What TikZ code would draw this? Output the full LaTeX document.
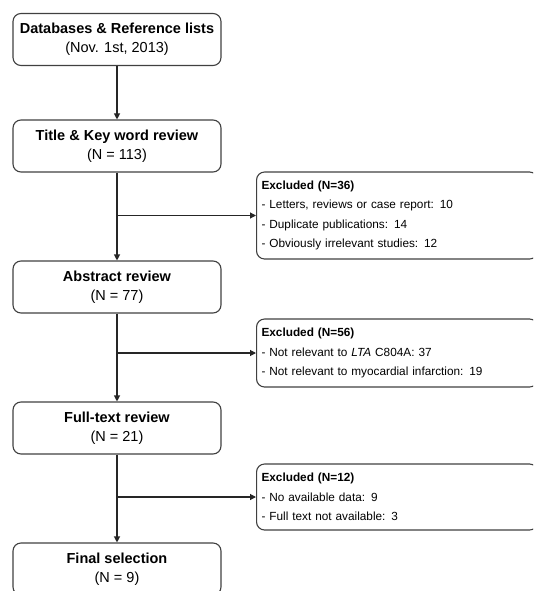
\documentclass[tikz,border=0pt]{standalone}
\usepackage{fontspec}
\setmainfont{Liberation Sans}
\usetikzlibrary{arrows.meta}

\tikzset{
  stage/.style={draw=black!75,line width=1.1pt,rounded corners=8pt,
    minimum width=208pt,minimum height=52pt,align=center,
    font=\fontsize{14.5}{19}\selectfont},
  excl/.style={draw=black!75,line width=1.1pt,rounded corners=8pt,anchor=west,
    text width=271pt,inner xsep=5pt,align=left,
    font=\fontsize{11.8}{19.5}\selectfont},
  flow/.style={line width=1.1pt,black!85,-{Triangle[length=6pt,width=6pt]}}
}

\begin{document}
\begin{tikzpicture}[x=1pt,y=-1pt]
\useasboundingbox (0,0) rectangle (533,591);
\clip (0,0) rectangle (533,591);

% Stages
\node[stage] (db) at (117,39.5) {\textbf{Databases \& Reference lists}\\(Nov. 1st, 2013)};
\node[stage] (title) at (117,146) {\textbf{Title \& Key word review}\\(N = 113)};
\node[stage] (abstract) at (117,287) {\textbf{Abstract review}\\(N = 77)};
\node[stage] (fulltext) at (117,428) {\textbf{Full-text review}\\(N = 21)};
\node[stage] (final) at (117,569) {\textbf{Final selection}\\(N = 9)};

% Exclusions
\node[excl,minimum height=87pt] (ex1) at (256,215.5) {\textbf{Excluded (N=36)}\\
- Letters, reviews or case report: 10\\
- Duplicate publications: 14\\
- Obviously irrelevant studies: 12};
\node[excl,minimum height=68pt] (ex2) at (256,353) {\textbf{Excluded (N=56)}\\
- Not relevant to \textit{LTA} C804A: 37\\
- Not relevant to myocardial infarction: 19};
\node[excl,minimum height=66pt] (ex3) at (256,497) {\textbf{Excluded (N=12)}\\
- No available data: 9\\
- Full text not available: 3};

% Arrows
\draw[flow] (db) -- (title);
\draw[flow] (title) -- (abstract);
\draw[flow] (abstract) -- (fulltext);
\draw[flow] (fulltext) -- (final);

% Branches
\coordinate (b1) at (title.south |- ex1.west);
\coordinate (b2) at (abstract.south |- ex2.west);
\coordinate (b3) at (fulltext.south |- ex3.west);
\draw[flow] (b1) -- (ex1.west);
\draw[flow] (b2) -- (ex2.west);
\draw[flow] (b3) -- (ex3.west);
\end{tikzpicture}
\end{document}
